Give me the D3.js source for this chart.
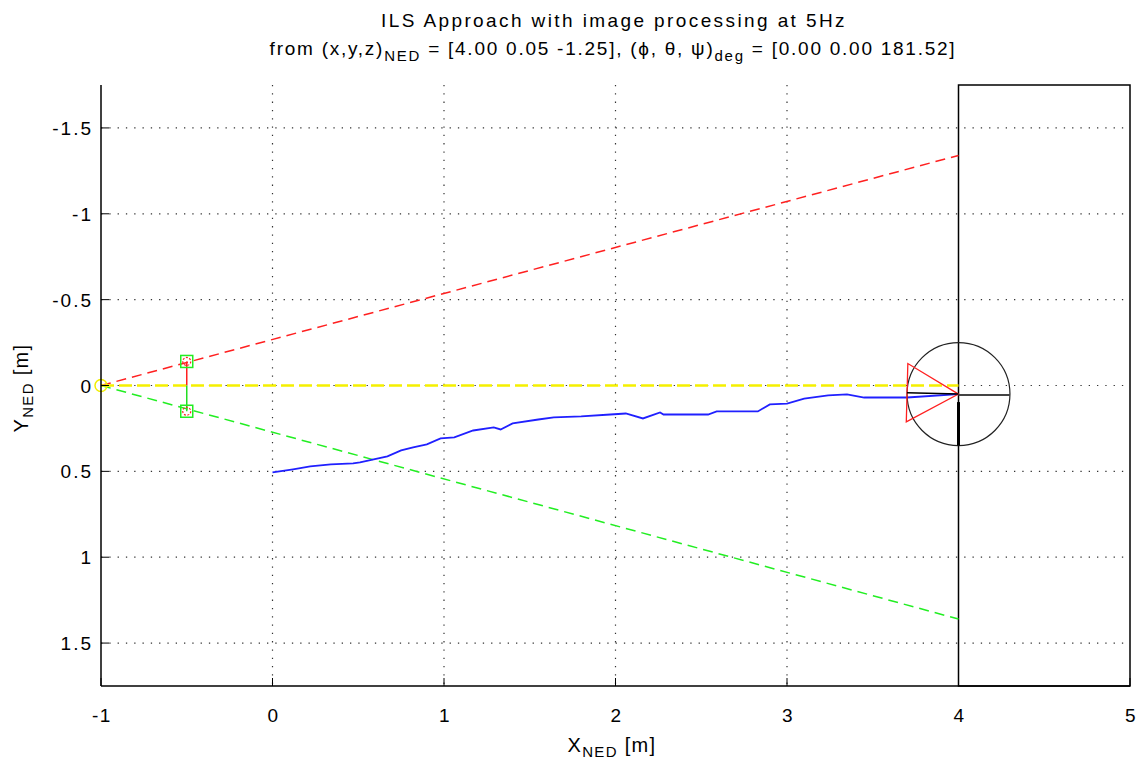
<!DOCTYPE html>
<html><head><meta charset="utf-8">
<script src="https://cdn.jsdelivr.net/npm/d3@7"></script>
<style>
html,body{margin:0;padding:0;background:#fff;}
text{font-family:"Liberation Sans",Arial,sans-serif;fill:#000;}
</style></head>
<body><svg id="c" width="1144" height="765"></svg>
<script>
// ---- data ----
const xDomain = [-1, 5];
const yDomain = [-1.75, 1.75];
const xTicks = [-1, 0, 1, 2, 3, 4, 5];
const yTicks = [-1.5, -1, -0.5, 0, 0.5, 1, 1.5];
const yTickLabels = ["-1.5", "-1", "-0.5", "0", "0.5", "1", "1.5"];
const trajX = [0.00,0.12,0.22,0.34,0.47,0.51,0.59,0.67,0.75,0.82,0.90,0.98,1.06,1.17,1.29,1.33,1.40,1.55,1.64,1.80,1.97,2.06,2.16,2.26,2.28,2.54,2.59,2.83,2.90,3.00,3.10,3.24,3.35,3.45,3.70,4.00];
const trajY = [0.506,0.488,0.471,0.459,0.453,0.448,0.430,0.413,0.378,0.360,0.343,0.308,0.302,0.262,0.244,0.256,0.221,0.198,0.186,0.180,0.169,0.163,0.192,0.157,0.169,0.169,0.151,0.151,0.110,0.105,0.076,0.058,0.052,0.070,0.070,0.050];
const coneApex = [-1, 0];
const coneEndX = 4;
const coneRedY = -1.34;
const coneGreenY = 1.36;
const markerX = -0.5;
const markerY = [-0.14, 0.15];
const aircraft = {x: 4.00, y: 0.05, psi: 181.52, r: 0.3, halfBase: 0.17, down: 0.35};
const rectX = [4, 5];
const rectY = [-1.75, 1.75];
const title1 = "ILS Approach with image processing at 5Hz";

// ---- layout ----
const L = 101, R = 1130, T = 85, B = 686;
const svg = d3.select("#c");
const x = d3.scaleLinear().domain(xDomain).range([L, R]);
const y = d3.scaleLinear().domain(yDomain).range([T, B]);

function fitWidth(sel, target) {
  const node = sel.node();
  const n = node.textContent.length;
  const w = node.getComputedTextLength();
  sel.attr("letter-spacing", ((target - w) / n).toFixed(2));
}

// grid
const g = svg.append("g");
g.selectAll(".vg").data(xTicks.filter(d => d > -1 && d < 4)).join("line")
  .attr("x1", d => x(d)).attr("x2", d => x(d)).attr("y1", T).attr("y2", B)
  .attr("stroke", "#333").attr("stroke-width", 1.2).attr("stroke-dasharray", "1.3,7");
g.selectAll(".hg").data(yTicks).join("line")
  .attr("x1", L).attr("x2", R).attr("y1", d => y(d)).attr("y2", d => y(d))
  .attr("stroke", "#333").attr("stroke-width", 1.2).attr("stroke-dasharray", "1.3,7");

// rectangle
svg.append("rect").attr("x", x(rectX[0])).attr("y", y(rectY[0]))
  .attr("width", x(rectX[1]) - x(rectX[0])).attr("height", y(rectY[1]) - y(rectY[0]))
  .attr("fill", "none").attr("stroke", "#000").attr("stroke-width", 1.5);

// cone lines
const dash = "10,6";
svg.append("line").attr("x1", x(coneApex[0])).attr("y1", y(coneApex[1]))
  .attr("x2", x(coneEndX)).attr("y2", y(coneRedY)).attr("stroke", "#ff2020").attr("stroke-width", 1.5).attr("stroke-dasharray", dash);
svg.append("line").attr("x1", x(coneApex[0])).attr("y1", y(coneApex[1]))
  .attr("x2", x(coneEndX)).attr("y2", y(coneGreenY)).attr("stroke", "#22ee22").attr("stroke-width", 1.5).attr("stroke-dasharray", dash);
svg.append("line").attr("x1", x(coneApex[0])).attr("y1", y(coneApex[1]))
  .attr("x2", x(coneEndX)).attr("y2", y(0)).attr("stroke", "#f5f000").attr("stroke-width", 2.5).attr("stroke-dasharray", "13,5");

// markers at x=-0.5
svg.append("line").attr("x1", x(markerX)).attr("x2", x(markerX)).attr("y1", y(markerY[0])).attr("y2", y(0))
  .attr("stroke", "#ff2020").attr("stroke-width", 1.5);
svg.append("line").attr("x1", x(markerX)).attr("x2", x(markerX)).attr("y1", y(0)).attr("y2", y(markerY[1]))
  .attr("stroke", "#22dd22").attr("stroke-width", 1.5);
markerY.forEach((my) => {
  svg.append("rect").attr("x", x(markerX) - 6).attr("y", y(my) - 6).attr("width", 12).attr("height", 12)
    .attr("fill", "none").attr("stroke", "#22ee22").attr("stroke-width", 1.5);
  svg.append("circle").attr("cx", x(markerX)).attr("cy", y(my)).attr("r", 4)
    .attr("fill", "none").attr("stroke", "#ff2020").attr("stroke-width", 1.2).attr("stroke-dasharray", "2,1.5");
});
svg.append("circle").attr("cx", x(coneApex[0])).attr("cy", y(coneApex[1])).attr("r", 6)
  .attr("fill", "none").attr("stroke", "#f0ee00").attr("stroke-width", 1.5);

// trajectory
const line = d3.line().x((d, i) => x(trajX[i])).y((d, i) => y(trajY[i])).curve(d3.curveStepAfter);
svg.append("path").datum(trajX).attr("d", d3.line().x((d, i) => x(trajX[i])).y((d, i) => y(trajY[i]))).attr("fill", "none").attr("stroke", "#2020ff").attr("stroke-width", 1.8);

// aircraft glyph
const a = aircraft, rad = a.psi * Math.PI / 180;
const dir = [Math.cos(rad), Math.sin(rad)];
const perp = [-dir[1], dir[0]];
const baseC = [a.x + a.r * dir[0], a.y + a.r * dir[1]];
svg.append("ellipse").attr("cx", x(a.x)).attr("cy", y(a.y))
  .attr("rx", x(a.x + a.r) - x(a.x)).attr("ry", y(a.y + a.r) - y(a.y))
  .attr("fill", "none").attr("stroke", "#222").attr("stroke-width", 1.2);
const tri = [[a.x, a.y], [baseC[0] + a.halfBase * perp[0], baseC[1] + a.halfBase * perp[1]], [baseC[0] - a.halfBase * perp[0], baseC[1] - a.halfBase * perp[1]]];
svg.append("path").attr("d", d3.line().x(d => x(d[0])).y(d => y(d[1]))(tri) + "Z")
  .attr("fill", "none").attr("stroke", "#ff2020").attr("stroke-width", 1.3);
svg.append("line").attr("x1", x(a.x)).attr("y1", y(a.y)).attr("x2", x(baseC[0])).attr("y2", y(baseC[1]))
  .attr("stroke", "#000").attr("stroke-width", 1.5);
svg.append("line").attr("x1", x(a.x)).attr("y1", y(a.y) + 1).attr("x2", x(a.x + a.r)).attr("y2", y(a.y) + 1)
  .attr("stroke", "#444").attr("stroke-width", 2);
svg.append("line").attr("x1", x(a.x)).attr("y1", y(a.y) + 8).attr("x2", x(a.x)).attr("y2", y(a.down))
  .attr("stroke", "#000").attr("stroke-width", 3);

// axes
svg.append("line").attr("x1", L).attr("x2", L).attr("y1", T).attr("y2", B).attr("stroke", "#000").attr("stroke-width", 1.5);
svg.append("line").attr("x1", L).attr("x2", R).attr("y1", B).attr("y2", B).attr("stroke", "#000").attr("stroke-width", 1.5);
svg.selectAll(".xt").data(xTicks).join("line").attr("x1", d => x(d)).attr("x2", d => x(d))
  .attr("y1", B).attr("y2", B - 8).attr("stroke", "#000").attr("stroke-width", 1);
svg.selectAll(".yt").data(yTicks).join("line").attr("x1", L).attr("x2", L + 8)
  .attr("y1", d => y(d)).attr("y2", d => y(d)).attr("stroke", "#000").attr("stroke-width", 1);
svg.selectAll(".xl").data(xTicks).join("text").attr("x", d => x(d) + 1).attr("y", 722)
  .attr("text-anchor", "middle").attr("font-size", 19).attr("letter-spacing", 1.5).text(d => d);
svg.selectAll(".yl").data(yTicks).join("text").attr("x", 93).attr("y", d => y(d) + 7)
  .attr("text-anchor", "end").attr("font-size", 19).attr("letter-spacing", 2).text((d, i) => yTickLabels[i]);

// labels
const xl = svg.append("text").attr("x", 612).attr("y", 752).attr("text-anchor", "middle").attr("font-size", 20);
xl.append("tspan").text("X");
xl.append("tspan").attr("dy", 5).attr("font-size", 15).text("NED");
xl.append("tspan").attr("dy", -5).text(" [m]");
fitWidth(xl, 89);
const yl = svg.append("text").attr("transform", "translate(28,388) rotate(-90)").attr("text-anchor", "middle").attr("font-size", 20);
yl.append("tspan").text("Y");
yl.append("tspan").attr("dy", 5).attr("font-size", 15).text("NED");
yl.append("tspan").attr("dy", -5).text(" [m]");
fitWidth(yl, 89);

// title
const t1 = svg.append("text").attr("x", 614).attr("y", 27).attr("text-anchor", "middle").attr("font-size", 19)
  .text(title1);
fitWidth(t1, 466);
const t2 = svg.append("text").attr("x", 613).attr("y", 55).attr("text-anchor", "middle").attr("font-size", 19);
t2.append("tspan").text("from (x,y,z)");
t2.append("tspan").attr("dy", 6).attr("font-size", 15).text("NED");
t2.append("tspan").attr("dy", -6).text(" = [4.00 0.05 -1.25], (\u03D5, \u03B8, \u03C8)");
t2.append("tspan").attr("dy", 6).attr("font-size", 15).text("deg");
t2.append("tspan").attr("dy", -6).text(" = [0.00 0.00 181.52]");
fitWidth(t2, 687);
</script></body></html>
